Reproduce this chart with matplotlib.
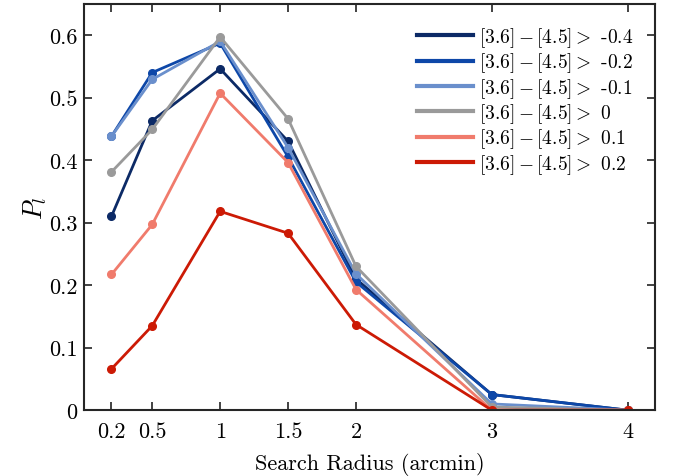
import matplotlib
matplotlib.use("Agg")
import matplotlib.pyplot as plt

plt.rcParams['font.family'] = 'serif'
plt.rcParams['font.serif'] = ['cmr10']
plt.rcParams['mathtext.fontset'] = 'cm'
plt.rcParams['axes.formatter.use_mathtext'] = True

radius = [0.2, 0.5, 1, 1.5, 2, 3, 4]
labels = ['-0.4', '-0.2', '-0.1', '0', '0.1', '0.2']
p_m04 = [0.310, 0.463, 0.546, 0.430, 0.210, 0.025, 0.0]
p_m02 = [0.438, 0.540, 0.587, 0.405, 0.205, 0.025, 0.0]
p_m01 = [0.438, 0.529, 0.590, 0.420, 0.218, 0.010, 0.0]
p_0 = [0.381, 0.449, 0.597, 0.466, 0.230, 0.005, 0.0]
p_01 = [0.217, 0.297, 0.507, 0.396, 0.193, 0.0, 0.0]
p_02 = [0.066, 0.135, 0.318, 0.283, 0.137, 0.0, 0.0]
series = [p_m04, p_m02, p_m01, p_0, p_01, p_02]
colors = ['#0c2a66', '#0d47a8', '#6a8fcc', '#9a9a9a', '#f07b6c', '#cc1a05']

fig = plt.figure(figsize=(6.8, 4.77), dpi=100)
ax = fig.add_axes([0.124, 0.138, 0.839, 0.852])

for vals, c, lab in zip(series, colors, labels):
    ax.plot(radius, vals, '-o', color=c, lw=2, ms=5.5,
            label=r'$[3.6]-[4.5]>$ ' + lab)

ax.set_xlim(0, 4.2)
ax.set_ylim(0, 0.65)
ax.set_xticks(radius)
ax.set_xticklabels(['0.2', '0.5', '1', '1.5', '2', '3', '4'])
ax.set_yticks([0, 0.1, 0.2, 0.3, 0.4, 0.5, 0.6])
ax.set_yticklabels(['0', '0.1', '0.2', '0.3', '0.4', '0.5', '0.6'])
ax.tick_params(direction='in', top=True, right=True, labelsize=16,
               length=6, width=1.2, color='#222222')
ax.tick_params(axis='x', pad=8)
ax.tick_params(axis='y', pad=5)
for s in ax.spines.values():
    s.set_linewidth(1.5)
    s.set_color('#262626')
ax.set_xlabel('Search Radius (arcmin)', fontsize=16, labelpad=8)
ax.set_ylabel(r'$P_l$', fontsize=19, labelpad=0)

leg = ax.legend(loc='upper right', frameon=False, fontsize=14,
                handlelength=2.9, labelspacing=0.08, handletextpad=0.3,
                borderaxespad=0.7)
for h in leg.get_lines():
    h.set_marker('')
    h.set_linewidth(3)

fig.savefig('out.png', dpi=100)
